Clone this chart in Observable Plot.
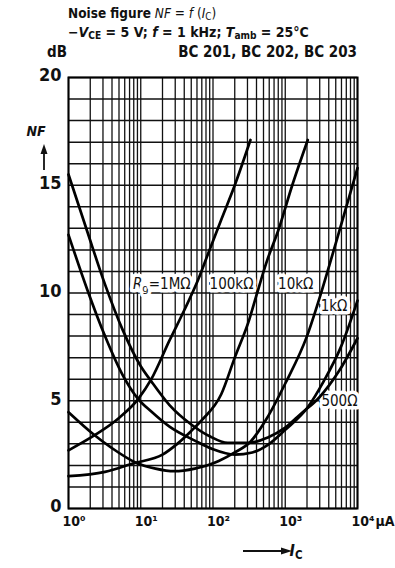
<!DOCTYPE html>
<html>
<head>
<meta charset="utf-8">
<script src="https://cdn.jsdelivr.net/npm/d3@7"></script>
<script src="https://cdn.jsdelivr.net/npm/@observablehq/plot@0.6"></script>
<style>
  body { margin: 0; background: #fff; }
  #chart { width: 395px; height: 568px; position: relative; overflow: hidden; background: #fff; }
  #chart svg { display: block; }
  svg text { font-family: "Liberation Sans Narrow", "DejaVu Sans Condensed", "Liberation Sans", Arial, sans-serif; fill: #111; }
</style>
</head>
<body>
<div id="chart"></div>
<script>
// ---- Data (collector current in µA, noise figure in dB) ----
const rgNames = ["1MΩ", "100kΩ", "10kΩ", "1kΩ", "500Ω"];

const current1M = [1, 2.3, 5, 9.3, 14, 25, 40, 62, 85, 130, 200, 330];
const nf1M      = [2.7, 3.4, 4.2, 5.1, 6.0, 7.8, 9.2, 10.6, 11.8, 13.4, 15.0, 17.1];

const current100k = [1, 3.2, 8, 20, 32, 50, 70, 130, 200, 320, 400, 560, 800, 1250, 2050];
const nf100k      = [1.5, 1.7, 2.1, 2.5, 3.0, 3.6, 4.1, 5.3, 7.0, 8.8, 9.9, 11.5, 12.9, 15.0, 17.1];

const current10k = [1, 2.3, 4, 8.3, 16, 29, 56, 120, 200, 330, 560, 1000, 2000, 3200, 5000, 10000];
const nf10k      = [4.47, 3.4, 2.8, 2.15, 1.85, 1.73, 1.85, 2.2, 2.6, 3.1, 4.2, 5.8, 8.0, 10.1, 12.3, 15.8];

const current1k = [1, 1.8, 3.2, 5.6, 9.1, 14, 25, 56, 100, 200, 350, 575, 1000, 2050, 3400, 5900, 10000];
const nf1k      = [12.7, 10.2, 8.0, 6.2, 5.1, 4.5, 3.8, 3.15, 2.75, 2.5, 2.6, 2.95, 3.65, 4.7, 5.9, 7.5, 9.65];

const current500 = [1, 1.8, 3.2, 5.6, 10, 14, 25, 50, 90, 160, 320, 575, 1000, 1650, 2950, 5600, 10000];
const nf500      = [15.5, 12.9, 10.4, 8.3, 6.6, 5.9, 4.8, 3.9, 3.35, 3.05, 3.05, 3.3, 3.75, 4.4, 5.15, 6.4, 7.9];

const xTicks = [1, 10, 100, 1000, 10000];
const xTickLabels = ["10⁰", "10¹", "10²", "10³", "10⁴"];
const yTicks = [0, 5, 10, 15, 20];
const yGrid = d3.range(0, 21);

const labelTexts   = ["Rg=1MΩ", "100kΩ", "10kΩ", "1kΩ", "500Ω"];
const labelCurrent = [49, 363, 2450, 7250, 10000];
const labelNF      = [10.4, 10.4, 10.4, 9.37, 5.0];

// ---- Build table ----
const curves = [
  [current1M, nf1M], [current100k, nf100k], [current10k, nf10k], [current1k, nf1k], [current500, nf500]
];
const rows = curves.flatMap(([I, NF], k) => I.map((v, i) => ({ Rg: rgNames[k], I: v, NF: NF[i] })));

const xGrid = d3.scaleLog().domain([1, 10000]).ticks();

// ---- Header ----
const chart = document.getElementById("chart");
const header = d3.create("svg").attr("width", 395).attr("height", 60);

function rich(textSel, parts, sub = 3) {
  let shifted = 0;
  for (const [s, style] of parts) {
    const t = textSel.append("tspan").text(s);
    if (style && style.includes("b")) t.attr("font-weight", "bold");
    if (style && style.includes("i")) t.attr("font-style", "italic");
    if (style && style.includes("s")) {
      t.attr("dy", sub - shifted).attr("font-size", "0.72em"); shifted = sub;
    } else if (shifted) {
      t.attr("dy", -shifted); shifted = 0;
    }
  }
}

rich(header.append("text").attr("x", 68).attr("y", 18).attr("font-size", 13.5),
  [["Noise figure", "b"], [" "], ["NF", "i"], [" = "], ["f", "i"], [" ("], ["I", "i"], ["C", "s"], [")"]], 2);
rich(header.append("text").attr("x", 68).attr("y", 37).attr("font-size", 14).attr("font-weight", "bold"),
  [["−"], ["V", "i"], ["CE", "s"], [" = 5 V; "], ["f", "i"], [" = 1 kHz; "], ["T", "i"], ["amb", "s"], [" = 25°C"]], 2);
header.append("text").attr("x", 47).attr("y", 57).attr("font-size", 15).attr("font-weight", "bold").text("dB");
header.append("text").attr("x", 357).attr("y", 57).attr("font-size", 15).attr("font-weight", "bold")
  .attr("text-anchor", "end").text("BC 201,  BC 202,  BC 203");
chart.append(header.node());

// ---- Plot ----
const plot = Plot.plot({
  width: 395,
  height: 508,
  marginLeft: 68,
  marginRight: 38,
  marginTop: 17,
  marginBottom: 60,
  x: { type: "log", domain: [1, 10000], axis: null },
  y: { domain: [0, 20], axis: null },
  style: { background: "#fff", color: "#111" },
  marks: [
    Plot.ruleX(xGrid, { stroke: "#111", strokeWidth: 1.3 }),
    Plot.ruleY(yGrid, { stroke: "#111", strokeWidth: 1.5 }),
    Plot.frame({ stroke: "#000", strokeWidth: 2 }),
    Plot.text(labelTexts, {
      x: labelCurrent, y: labelNF, text: d => d, textAnchor: "end",
      fontSize: 15, stroke: "white", strokeWidth: 7, paintOrder: "stroke", fill: "#111"
    }),
    Plot.line(rows, { x: "I", y: "NF", z: "Rg", curve: "monotone-x", stroke: "#000", strokeWidth: 2.7 }),
    Plot.text(yTicks, {
      x: 1, y: d => d, text: d => String(d), textAnchor: "end", dx: -7, dy: -2,
      fontSize: 18, fontWeight: "bold", fill: "#111"
    }),
    Plot.text(xTicks, {
      x: d => d, y: 0, text: (d, i) => xTickLabels[i], textAnchor: "start", dx: -6, dy: 13,
      fontSize: 14, fontWeight: "bold", fill: "#111"
    }),
    Plot.text(["μA"], {
      x: 10000, y: 0, text: d => d, textAnchor: "start", dx: 18, dy: 13,
      fontSize: 14, fontWeight: "bold", fill: "#111"
    })
  ]
});

const svg = d3.select(plot);

// Rg label: italic R, subscript g
svg.selectAll("text").filter(function () { return d3.select(this).text() === "Rg=1MΩ"; })
  .each(function () {
    const t = d3.select(this); t.text("");
    t.append("tspan").attr("font-style", "italic").text("R");
    t.append("tspan").attr("font-size", "0.75em").attr("dy", 3).text("g");
    t.append("tspan").attr("dy", -3).text("=1MΩ");
  });

// NF label with upward arrow on the left
const ann = svg.append("g");
rich(ann.append("text").attr("x", 36).attr("y", 76).attr("font-size", 14).attr("font-weight", "bold"), [["NF", "i"]]);
ann.append("line").attr("x1", 44).attr("x2", 44).attr("y1", 110).attr("y2", 92).attr("stroke", "#111").attr("stroke-width", 1.8);
ann.append("path").attr("d", "M44,84 L40.5,94 L47.5,94 Z").attr("fill", "#111");

// I_C arrow below the axis
ann.append("line").attr("x1", 243).attr("x2", 282).attr("y1", 491).attr("y2", 491).attr("stroke", "#111").attr("stroke-width", 1.8);
ann.append("path").attr("d", "M292,491 L281,487.5 L281,494.5 Z").attr("fill", "#111");
rich(ann.append("text").attr("x", 296).attr("y", 496).attr("font-size", 16).attr("font-weight", "bold"), [["I", "i"], ["C", "s"]]);

chart.append(plot);
</script>
</body>
</html>
